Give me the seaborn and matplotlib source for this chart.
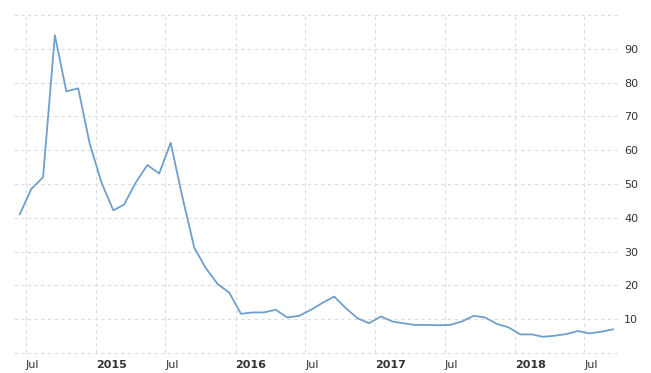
import pandas as pd
import numpy as np
import seaborn as sns
import matplotlib.pyplot as plt
import matplotlib.transforms as mtransforms

# ---- data (monthly, Jun 2014 - Sep 2018) ----
start_month = "2014-06-01"
end_month = "2018-09-01"
values = [41.0, 48.5, 52.0, 94.0, 77.4, 78.3, 62.0, 50.4, 42.2, 43.9,
          50.5, 55.6, 53.1, 62.2, 46.0, 31.1, 25.1, 20.4, 17.9, 11.6,
          12.0, 12.0, 12.8, 10.5, 11.0, 12.7, 14.8, 16.7, 13.3, 10.3,
          8.8, 10.8, 9.3, 8.8, 8.3, 8.3, 8.2, 8.3, 9.3, 11.0,
          10.5, 8.6, 7.6, 5.5, 5.5, 4.8, 5.1, 5.6, 6.5, 5.8,
          6.3, 7.0]
tick_dates = ["2014-07-01", "2015-01-01", "2015-07-01", "2016-01-01", "2016-07-01",
              "2017-01-01", "2017-07-01", "2018-01-01", "2018-07-01"]
tick_labels = ["Jul", "2015", "Jul", "2016", "Jul", "2017", "Jul", "2018", "Jul"]
y_ticks = [0, 10, 20, 30, 40, 50, 60, 70, 80, 90, 100]
y_labels = ["", "10", "20", "30", "40", "50", "60", "70", "80", "90", ""]

dates = pd.date_range(start_month, end_month, freq="MS") + pd.Timedelta(days=14)
df = pd.DataFrame({"date": dates, "value": values})

sns.set_style("white")
plt.rcParams["font.family"] = ["DejaVu Sans"]

W, H = 651, 373
fig = plt.figure(figsize=(W / 100, H / 100), dpi=100)
ax = fig.add_axes([14 / W, 20 / H, 606 / W, 338 / H])

sns.lineplot(data=df, x="date", y="value", ax=ax, color="#6f9fcb", linewidth=1.3)

ax.set_xlim(pd.Timestamp("2014-05-31"), pd.Timestamp("2018-10-03"))
ax.set_ylim(0, 100)
ax.set_xlabel("")
ax.set_ylabel("")

ax.set_xticks(pd.to_datetime(tick_dates))
ax.set_xticklabels(tick_labels)
offset = mtransforms.ScaledTranslation(2 / 100, 0, fig.dpi_scale_trans)
for lbl in ax.get_xticklabels():
    lbl.set_horizontalalignment("left")
    lbl.set_transform(lbl.get_transform() + offset)
    if lbl.get_text().isdigit():
        lbl.set_fontweight("bold")

ax.yaxis.tick_right()
ax.set_yticks(y_ticks)
ax.set_yticklabels(y_labels)

ax.tick_params(axis="both", length=0, colors="#333333", labelsize=8)
ax.tick_params(axis="x", pad=5)
ax.tick_params(axis="y", pad=3)

ax.grid(True, color="#dcdcdc", linestyle=(0, (3, 3)), linewidth=0.8)
ax.set_axisbelow(True)
for gl in ax.get_xgridlines() + ax.get_ygridlines():
    gl.set_clip_on(False)
for s in ax.spines.values():
    s.set_visible(False)

fig.savefig("out.png", dpi=100)
